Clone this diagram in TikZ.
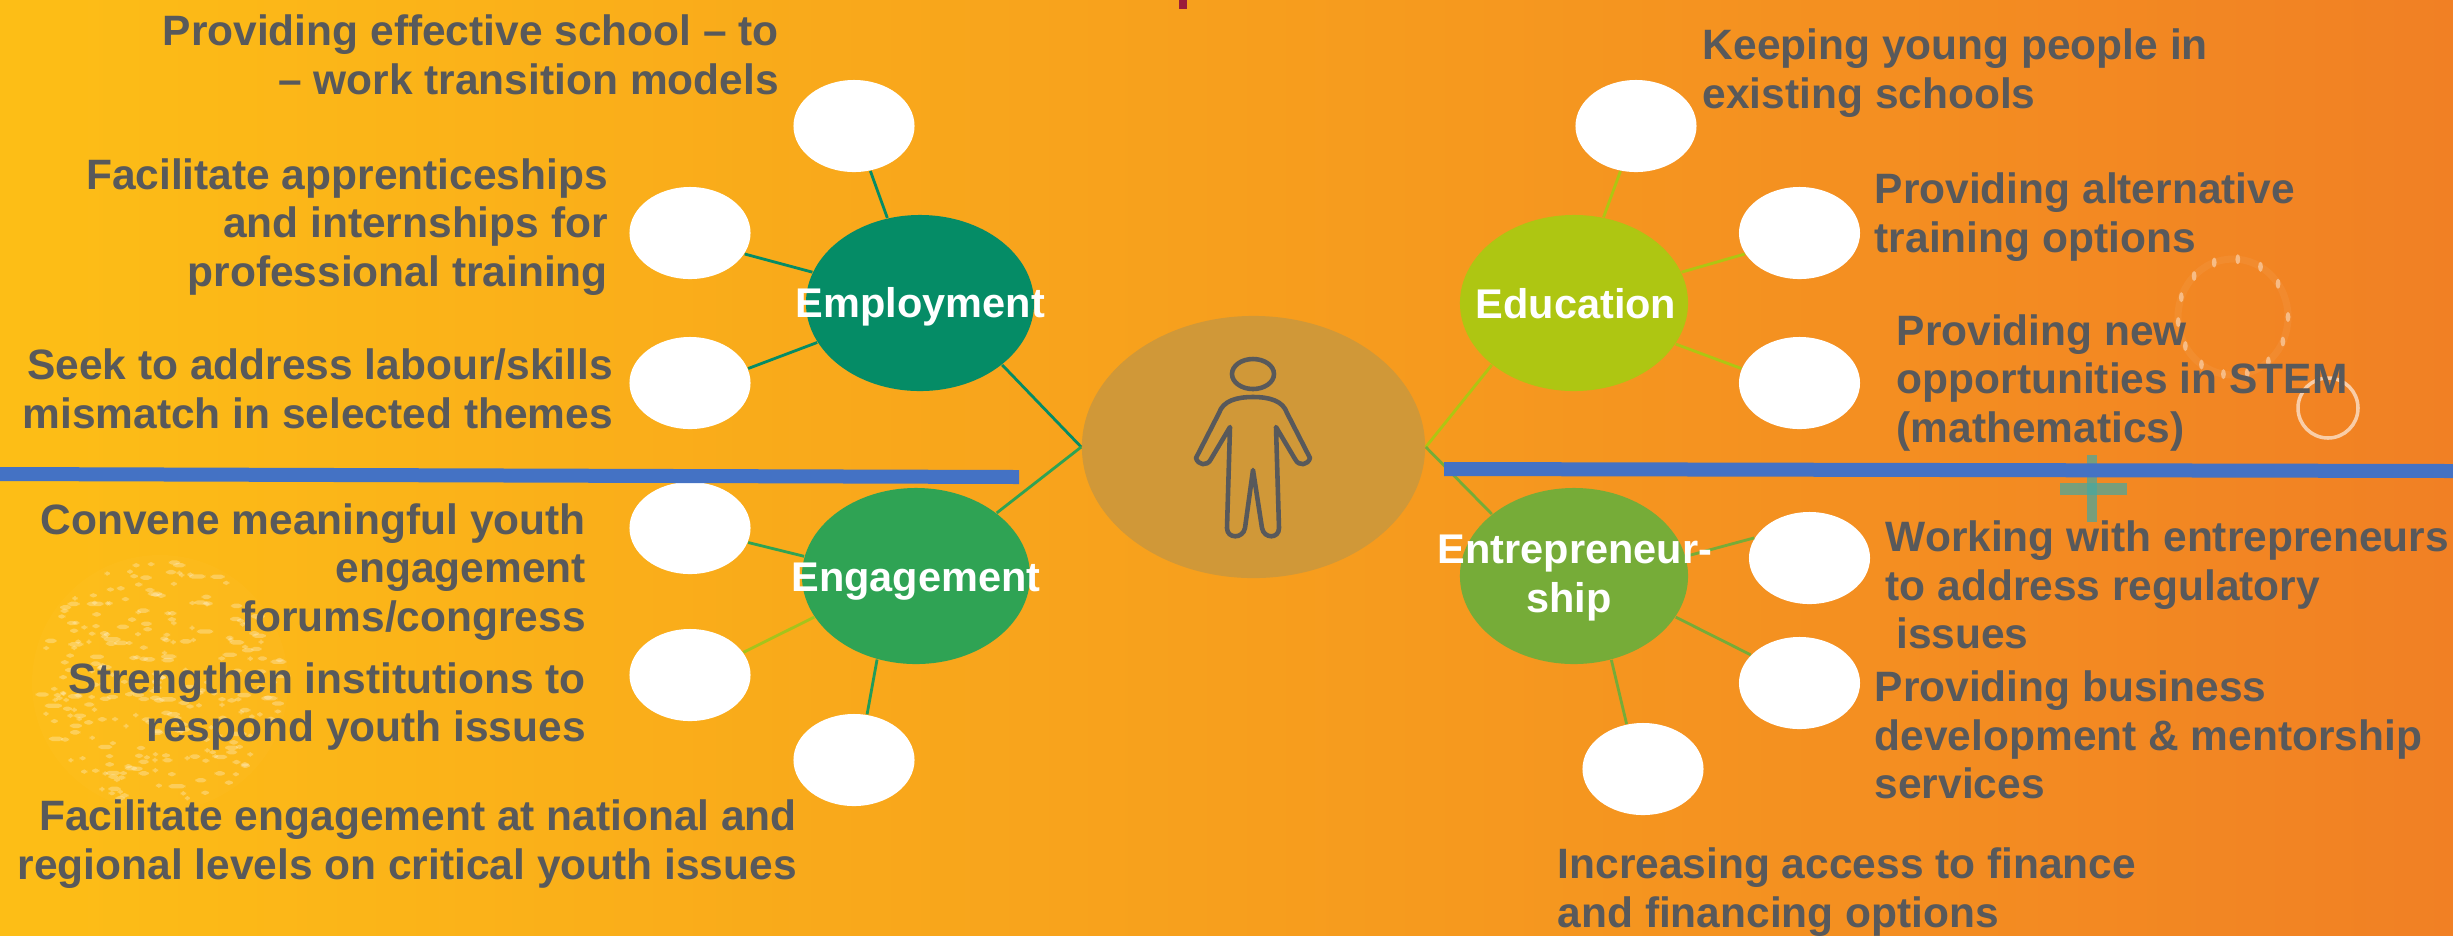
\documentclass[tikz,border=0pt]{standalone}
\usepackage{fontspec}
\setmainfont{Liberation Sans}
\usetikzlibrary{shapes.geometric}
\definecolor{bgleft}{HTML}{FDBE16}
\definecolor{bgmid}{HTML}{F8A51D}
\definecolor{bgright}{HTML}{F18024}
\definecolor{txtgray}{HTML}{58595B}
\definecolor{barblue}{HTML}{4472C4}
\definecolor{hubfill}{HTML}{D09838}
\definecolor{empgreen}{HTML}{058C66}
\definecolor{enggreen}{HTML}{2FA354}
\definecolor{edugreen}{HTML}{AEC612}
\definecolor{entgreen}{HTML}{76AC38}
\definecolor{englight}{HTML}{A5C41C}
\definecolor{crossteal}{HTML}{45A8A2}
\definecolor{barmark}{HTML}{9B1C3A}
\tikzset{
    cluster/.style={draw=none, ellipse, inner sep=0pt, minimum width=2.28cm, minimum height=1.76cm},
    leaf/.style={draw=none, fill=white, ellipse, inner sep=0pt, minimum width=1.21cm, minimum height=0.92cm},
    headtxt/.style={text=white, font=\fontsize{11.8}{14}\selectfont\bfseries, align=center, inner sep=0pt},
    ltxt/.style={text=txtgray, font=\fontsize{12.08}{13.85}\selectfont\bfseries, align=right, anchor=east, inner sep=0pt},
    rtxt/.style={text=txtgray, font=\fontsize{12.08}{13.85}\selectfont\bfseries, align=left, anchor=west, inner sep=0pt},
    link/.style={line width=0.8pt}
}
\begin{document}
\begin{tikzpicture}[x=0.01cm, y=-0.01cm]
    \useasboundingbox (0,0) rectangle (2453,935);
    \shade[left color=bgleft, middle color=bgmid, right color=bgright] (0,0) rectangle (2453,935);
    \fill[barmark] (1179,0) rectangle (1187,9);

    \fill[white, opacity=0.02] (160,683) circle (128);
    \pgfmathsetseed{41}
    \foreach \i in {1,...,280} {
        \pgfmathsetmacro{\ang}{rnd*360}
        \pgfmathsetmacro{\rad}{122*sqrt(rnd)}
        \pgfmathsetmacro{\wid}{2.5+7*rnd*rnd}
        \fill[white, opacity=0.28, rounded corners=1pt] ({160+\rad*cos(\ang)-\wid},{683+\rad*sin(\ang)-2.2}) rectangle ({160+\rad*cos(\ang)+\wid},{683+\rad*sin(\ang)+2.2});
    }
    \draw[white, opacity=0.05, line width=2pt] (2233,317) ellipse (55 and 58);
    \foreach \a in {0,25,...,335} {
        \fill[white, opacity=0.42] (2233,317) ++(\a:55 and 58) ellipse (2.4 and 5);
    }
    \draw[white, opacity=0.6, line width=1pt] (2328,408) circle (30);
    \fill[crossteal, opacity=0.7] (2060,483) rectangle (2127,495);
    \fill[crossteal, opacity=0.7] (2087,455) rectangle (2097,522);

    \node[draw=none, fill=hubfill, ellipse, inner sep=0pt, minimum width=3.43cm, minimum height=2.62cm] (hub) at (1253.5,447) {};
    \node[cluster, fill=empgreen] (emp) at (920,303) {};
    \node[cluster, fill=enggreen] (eng) at (916,576) {};
    \node[cluster, fill=edugreen] (edu) at (1574,303) {};
    \node[cluster, fill=entgreen] (ent) at (1574,576) {};

    \node[leaf] (emp1) at (854,126) {};
    \node[leaf] (emp2) at (690,233) {};
    \node[leaf] (emp3) at (690,383) {};
    \node[leaf] (eng1) at (690,528) {};
    \node[leaf] (eng2) at (690,675) {};
    \node[leaf] (eng3) at (854,760) {};
    \node[leaf] (edu1) at (1636,126) {};
    \node[leaf] (edu2) at (1799.5,233) {};
    \node[leaf] (edu3) at (1799.5,383) {};
    \node[leaf] (ent1) at (1809.5,558) {};
    \node[leaf] (ent2) at (1799.5,683) {};
    \node[leaf] (ent3) at (1643,769) {};

    \draw[link, empgreen] (hub.west) -- (emp.323);
    \draw[link, enggreen] (hub.west) -- (eng.38);
    \draw[link, edugreen] (hub.east) -- (edu.217);
    \draw[link, entgreen] (hub.east) -- (ent.143);

    \draw[link, empgreen] (emp.111) -- (emp1.290);
    \draw[link, empgreen] (emp.164) -- (emp2.339);
    \draw[link, empgreen] (emp.201) -- (emp3.14);
    \draw[link, enggreen] (eng.170) -- (eng1.346);
    \draw[link, englight] (eng.202) -- (eng2.23);
    \draw[link, enggreen!70!empgreen] (eng.245) -- (eng3.74);
    \draw[link, edugreen] (edu.71) -- (edu1.251);
    \draw[link, edugreen] (edu.16) -- (edu2.201);
    \draw[link, edugreen] (edu.338) -- (edu3.166);
    \draw[link, entgreen] (ent.10) -- (ent1.160);
    \draw[link, entgreen] (ent.338) -- (ent2.150);
    \draw[link, entgreen] (ent.294) -- (ent3.110);

    \fill[barblue] (0,467) -- (1019,470) -- (1019,484) -- (0,481) -- cycle;
    \fill[barblue] (1444,462) -- (2453,464) -- (2453,478) -- (1444,476) -- cycle;

    \draw[txtgray, line width=1.3pt] (1253,374) ellipse (21 and 15);
    \draw[txtgray, line width=1.3pt, line join=round] (1230,427) -- (1211,459) .. controls (1207,467) and (1198,465) .. (1196,458) -- (1219,413) .. controls (1223,401) and (1236,397) .. (1253,397) .. controls (1270,397) and (1283,401) .. (1287,413) -- (1310,458) .. controls (1308,465) and (1299,467) .. (1295,459) -- (1276,427) -- (1279,528) .. controls (1279,539) and (1264,539) .. (1262,528) -- (1253,470) -- (1245,528) .. controls (1243,539) and (1227,539) .. (1227,528) -- cycle;

    \node[headtxt] (emptxt) at (920.5,307) {Employment};
    \node[headtxt] (engtxt) at (916,582) {Engagement};
    \node[headtxt] (edutxt) at (1576,304) {Education};
    \node[headtxt] (enttxt) at (1575,578) {Entrepreneur-\\ship\hspace*{3.4pt}};

    \node[ltxt] (emptxt1) at (779.5,55) {Providing effective school – to\\– work transition models};
    \node[ltxt] (emptxt2) at (608.5,227) {Facilitate apprenticeships\\and internships for\\professional training};
    \node[ltxt] (emptxt3) at (613.5,389) {Seek to address labour/skills\\mismatch in selected themes};
    \node[ltxt] (engtxt1) at (586.5,572) {Convene meaningful youth\\engagement\\forums/congress};
    \node[ltxt] (engtxt2) at (586.5,706.5) {Strengthen institutions to\\respond youth issues};
    \node[ltxt] (engtxt3) at (797.5,844) {Facilitate engagement at national and\\regional levels on critical youth issues};
    \node[rtxt] (edutxt1) at (1702,73) {Keeping young people in\\existing schools};
    \node[rtxt] (edutxt2) at (1874,217) {Providing alternative\\training options};
    \node[rtxt] (edutxt3) at (1896,383) {Providing new\\opportunities in STEM\\(mathematics)};
    \node[rtxt] (enttxt1) at (1885,585) {Working with entrepreneurs\\to address regulatory\\\hspace*{3pt}issues};
    \node[rtxt] (enttxt2) at (1874,735) {Providing business\\development \& mentorship\\services};
    \node[rtxt] (enttxt3) at (1557,892) {Increasing access to finance\\and financing options};
\end{tikzpicture}
\end{document}
